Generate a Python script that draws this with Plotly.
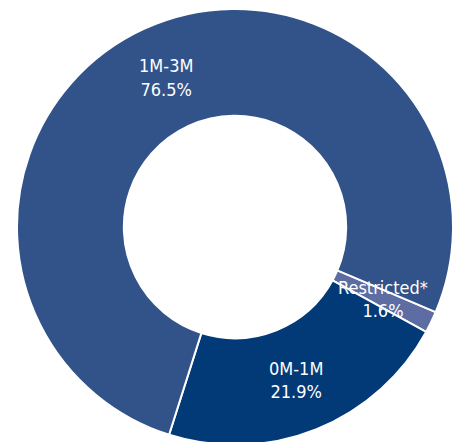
import math
import plotly.graph_objects as go

labels = ["Restricted*", "0M-1M", "1M-3M"]
values = [1.6, 21.9, 76.5]
colors = ["#5E6CA4", "#023A78", "#32528A"]

W, H = 461, 442
OFF = 8  # page body margin
cx, cy, R = 235 - OFF, 227 - OFF, 218
HOLE = 0.51
ROT = 113
FONT = dict(family="DejaVu Sans Condensed, sans-serif", size=18, color="white")

fig = go.Figure(go.Pie(
    labels=labels,
    values=values,
    sort=False,
    direction="clockwise",
    rotation=ROT,
    hole=HOLE,
    marker=dict(colors=colors, line=dict(color="white", width=2)),
    texttemplate="%{label}<br>%{value:.1f}%",
    textposition=["none", "inside", "inside"],
    insidetextorientation="horizontal",
    textfont=FONT,
    domain=dict(x=[(cx - R) / W, (cx + R) / W], y=[(H - cy - R) / H, (H - cy + R) / H]),
    showlegend=False,
))

# label for the thin slice, placed at its mid-angle, mid-radius
total = sum(values)
mid = math.radians(ROT + values[0] / 2 / total * 360)
rm = R * (1 + HOLE) / 2
px = cx + rm * math.sin(mid)
py = cy - rm * math.cos(mid)
fig.add_annotation(
    x=px / W, y=1 - py / H, xref="paper", yref="paper",
    text=f"{labels[0]}<br>{values[0]:.1f}%", showarrow=False,
    font=FONT, xanchor="center", yanchor="middle",
)

fig.update_layout(
    width=W, height=H,
    margin=dict(l=0, r=0, t=0, b=0),
    paper_bgcolor="white",
    uniformtext=dict(minsize=18, mode="show"),
)
fig.write_html("out.html")
